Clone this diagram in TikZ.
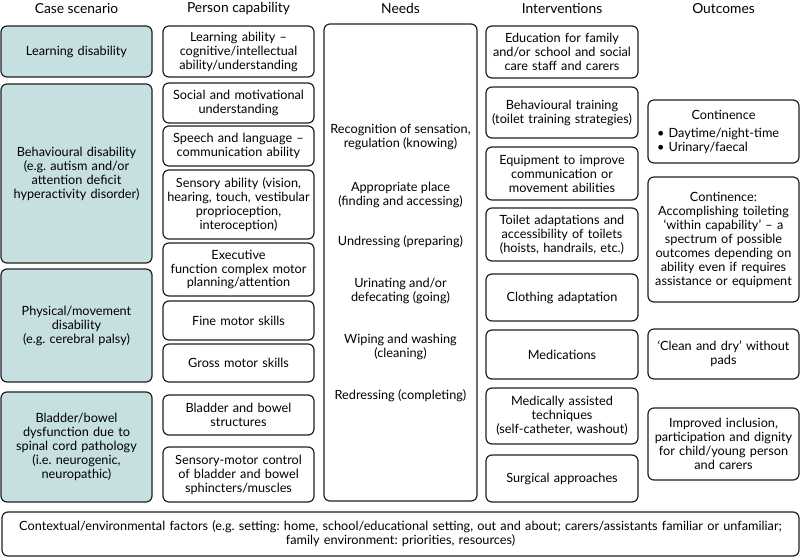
\documentclass[tikz,border=0pt]{standalone}
\usepackage{fontspec}
\setmainfont{Lato}
\definecolor{casefill}{HTML}{C6DFE1}
\definecolor{edge}{HTML}{231F20}
\frenchspacing
\begin{document}
\begin{tikzpicture}[x=1pt,y=-1pt,
  font=\fontsize{12.7}{14}\selectfont,
  box/.style={draw=edge, line width=1.2pt, rounded corners=6pt, align=center, inner sep=1pt, text=black},
  casebox/.style={box, fill=casefill},
  hdr/.style={font=\fontsize{13.8}{15}\selectfont, inner sep=0pt},
  txt/.style={align=center, inner sep=0pt}]
\useasboundingbox (0,0) rectangle (800,557);
% headers
\node[hdr] (h1) at (76.5,8.5) {Case scenario};
\node[hdr] (h2) at (238.5,8.5) {Person capability};
\node[hdr] (h3) at (400.5,8.5) {Needs};
\node[hdr] (h4) at (562,8.5) {Interventions};
\node[hdr] (h5) at (723.5,8.5) {Outcomes};
% case scenario
\node[casebox, minimum width=151pt, minimum height=51pt, text width=149pt] (cs1) at (76.5,51.5) {Learning disability};
\node[casebox, minimum width=151pt, minimum height=179pt, text width=149pt] (cs2) at (76.5,173.5) {Behavioural disability\\(e.g. autism and/or\\attention deficit\\hyperactivity disorder)};
\node[casebox, minimum width=151pt, minimum height=113pt, text width=149pt] (cs3) at (76.5,325.5) {Physical/movement\\disability\\(e.g. cerebral palsy)};
\node[casebox, minimum width=151pt, minimum height=110pt, text width=149pt] (cs4) at (76.5,447) {Bladder/bowel\\dysfunction due to\\spinal cord pathology\\(i.e. neurogenic,\\neuropathic)};
% person capability
\node[box, minimum width=151pt, minimum height=51pt, text width=149pt] (p1) at (238.5,51.5) {Learning ability --\\cognitive/intellectual\\ability/understanding};
\node[box, minimum width=151pt, minimum height=40pt, text width=149pt] (p2) at (238.5,103) {Social and motivational\\understanding};
\node[box, minimum width=151pt, minimum height=40pt, text width=149pt] (p3) at (238.5,146) {Speech and language --\\communication ability};
\node[box, minimum width=151pt, minimum height=69pt, text width=149pt] (p4) at (238.5,204.5) {Sensory ability (vision,\\hearing, touch, vestibular\\proprioception,\\interoception)};
\node[box, minimum width=151pt, minimum height=53pt, text width=149pt] (p5) at (238.5,269.5) {Executive\\function complex motor\\planning/attention};
\node[box, minimum width=151pt, minimum height=39pt, text width=149pt] (p6) at (238.5,320.5) {Fine motor skills};
\node[box, minimum width=151pt, minimum height=38pt, text width=149pt] (p7) at (238.5,363) {Gross motor skills};
\node[box, minimum width=151pt, minimum height=40pt, text width=149pt] (p8) at (238.5,415) {Bladder and bowel\\structures};
\node[box, minimum width=151pt, minimum height=55pt, text width=149pt] (p9) at (238.5,474.5) {Sensory-motor control\\of bladder and bowel\\sphincters/muscles};
% needs
\node[box, minimum width=153pt, minimum height=477pt] (needs) at (400.5,262.5) {};
\node[txt] (n1) at (400.5,137.5) {Recognition of sensation,\\regulation (knowing)};
\node[txt] (n2) at (400.5,194.5) {Appropriate place\\(finding and accessing)};
\node[txt] (n3) at (400.5,241.5) {Undressing (preparing)};
\node[txt] (n4) at (400.5,290.5) {Urinating and/or\\defecating (going)};
\node[txt] (n5) at (400.5,346.5) {Wiping and washing\\(cleaning)};
\node[txt] (n6) at (400.5,396) {Redressing (completing)};
% interventions
\node[box, minimum width=152pt, minimum height=52pt, text width=150pt] (i1) at (562,52) {Education for family\\and/or school and social\\care staff and carers};
\node[box, minimum width=152pt, minimum height=51pt, text width=150pt] (i2) at (562,112.5) {Behavioural training\\(toilet training strategies)};
\node[box, minimum width=152pt, minimum height=53pt, text width=150pt] (i3) at (562,173.5) {Equipment to improve\\communication or\\movement abilities};
\node[box, minimum width=152pt, minimum height=53pt, text width=150pt] (i4) at (562,234.5) {Toilet adaptations and\\accessibility of toilets\\(hoists, handrails, etc.)};
\node[box, minimum width=152pt, minimum height=47pt, text width=150pt] (i5) at (562,297.5) {Clothing adaptation};
\node[box, minimum width=152pt, minimum height=49pt, text width=150pt] (i6) at (562,354.5) {Medications};
\node[box, minimum width=152pt, minimum height=56pt, text width=150pt] (i7) at (562,416) {Medically assisted\\techniques\\(self-catheter, washout)};
\node[box, minimum width=152pt, minimum height=47pt, text width=150pt] (i8) at (562,478.5) {Surgical approaches};
% outcomes
\node[box, minimum width=151pt, minimum height=63pt, text width=133pt, align=left] (o1) at (723.5,131.5) {\makebox[\hsize]{Continence}\\[4pt]\textbullet\ Daytime/night-time\\\textbullet\ Urinary/faecal};
\node[box, minimum width=151pt, minimum height=125pt, text width=149pt] (o2) at (723.5,239.5) {Continence:\\Accomplishing toileting\\`within capability' -- a\\spectrum of possible\\outcomes depending on\\ability even if requires\\assistance or equipment};
\node[box, minimum width=151pt, minimum height=50pt, text width=149pt] (o3) at (723.5,354) {`Clean and dry' without\\pads};
\node[box, minimum width=151pt, minimum height=72pt, text width=149pt] (o4) at (723.5,444) {Improved inclusion,\\participation and dignity\\for child/young person\\and carers};
% context
\node[box, minimum width=797pt, minimum height=44pt, text width=795pt] (ctx) at (400.5,534) {Contextual/environmental factors (e.g. setting: home, school/educational setting, out and about; carers/assistants familiar or unfamiliar;\\family environment: priorities, resources)};
\end{tikzpicture}
\end{document}
